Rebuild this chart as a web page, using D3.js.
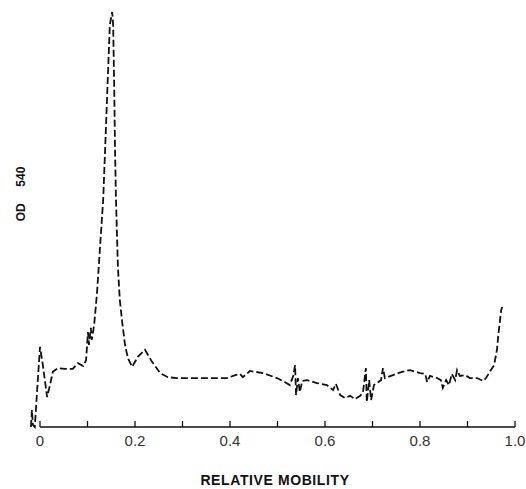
<!DOCTYPE html>
<html>
<head>
<meta charset="utf-8">
<script src="https://cdn.jsdelivr.net/npm/d3@7"></script>
<style>
html,body{margin:0;padding:0;background:#fff;}
svg{display:block;}
</style>
</head>
<body>
<svg id="chart" width="526" height="489"></svg>
<script>
// Relative mobility (x)
const mobility = [-0.019,-0.017,-0.015,-0.011,-0.006,0.000,0.006,0.015,0.021,0.027,0.038,0.053,0.069,0.080,0.091,0.097,0.101,0.103,0.107,0.109,0.114,0.120,0.126,0.133,0.137,0.141,0.145,0.147,0.152,0.154,0.156,0.158,0.160,0.164,0.168,0.173,0.179,0.185,0.194,0.206,0.221,0.236,0.253,0.269,0.288,0.337,0.394,0.411,0.421,0.427,0.442,0.469,0.499,0.516,0.526,0.533,0.537,0.539,0.543,0.547,0.552,0.562,0.583,0.604,0.617,0.623,0.632,0.642,0.653,0.663,0.674,0.680,0.686,0.688,0.693,0.697,0.703,0.709,0.718,0.722,0.726,0.743,0.762,0.779,0.800,0.811,0.815,0.821,0.836,0.844,0.848,0.855,0.861,0.867,0.874,0.878,0.884,0.895,0.905,0.920,0.933,0.939,0.947,0.956,0.962,0.966,0.971,0.973];
// Optical density at 540 nm (relative, peak = 1)
const od540 = [0.000,0.041,0.005,0.000,0.089,0.193,0.149,0.072,0.101,0.133,0.142,0.140,0.140,0.154,0.147,0.161,0.229,0.198,0.239,0.210,0.246,0.323,0.427,0.547,0.667,0.788,0.908,0.969,1.000,0.969,0.836,0.667,0.547,0.386,0.306,0.253,0.198,0.166,0.145,0.169,0.186,0.157,0.130,0.120,0.118,0.118,0.118,0.125,0.128,0.120,0.135,0.130,0.118,0.108,0.101,0.123,0.149,0.077,0.118,0.084,0.111,0.113,0.106,0.101,0.089,0.104,0.077,0.070,0.075,0.067,0.075,0.084,0.142,0.060,0.113,0.065,0.101,0.106,0.113,0.142,0.118,0.125,0.133,0.137,0.130,0.128,0.108,0.123,0.118,0.113,0.094,0.113,0.101,0.128,0.113,0.137,0.123,0.125,0.118,0.118,0.111,0.118,0.133,0.149,0.186,0.234,0.282,0.289];
const majorTicks = [0, 0.2, 0.4, 0.6, 0.8, 1.0];
const tickLabels = ["0", "0.2", "0.4", "0.6", "0.8", "1.0"];
const minorTicks = [0.1, 0.3, 0.5, 0.7, 0.9];

const svg = d3.select("#chart");
const x = d3.scaleLinear().domain([0, 1]).range([40, 515]);
const y = d3.scaleLinear().domain([0, 1]).range([427, 12]);

// x axis
const axisG = svg.append("g").attr("transform", "translate(0,427)");
axisG.append("line").attr("x1", x(0)).attr("x2", x(1)).attr("y1", 0).attr("y2", 0)
  .attr("stroke", "#111").attr("stroke-width", 1.6);
const allTicks = majorTicks.concat(minorTicks);
axisG.selectAll("line.tick").data(allTicks).enter().append("line")
  .attr("class", "tick")
  .attr("x1", d => x(d)).attr("x2", d => x(d))
  .attr("y1", 0).attr("y2", -6)
  .attr("stroke", "#111").attr("stroke-width", 1.3);
axisG.selectAll("text").data(majorTicks).enter().append("text")
  .attr("x", d => x(d)).attr("y", 19)
  .attr("text-anchor", "middle")
  .attr("font-family", "Liberation Sans, Arial, sans-serif")
  .attr("font-size", 15)
  .attr("fill", "#333")
  .text((d, i) => tickLabels[i]);

// axis titles
svg.append("text")
  .attr("x", 275).attr("y", 485)
  .attr("text-anchor", "middle")
  .attr("font-family", "Liberation Sans, Arial, sans-serif")
  .attr("font-weight", "bold")
  .attr("font-size", 14)
  .attr("letter-spacing", 0.6)
  .attr("fill", "#111")
  .text("RELATIVE MOBILITY");

svg.append("text")
  .attr("transform", "translate(25,194) rotate(-90)")
  .attr("text-anchor", "middle")
  .attr("font-family", "Liberation Sans, Arial, sans-serif")
  .attr("font-weight", "bold")
  .attr("font-size", 12)
  .attr("fill", "#111")
  .style("white-space", "pre")
  .text("OD     540");

// trace
const pts = mobility.map((m, i) => [m, od540[i]]);
const line = d3.line().x(d => x(d[0])).y(d => y(d[1]));
svg.append("path")
  .attr("d", line(pts))
  .attr("fill", "none")
  .attr("stroke", "#111")
  .attr("stroke-width", 1.8)
  .attr("stroke-dasharray", "7,3");
</script>
</body>
</html>
